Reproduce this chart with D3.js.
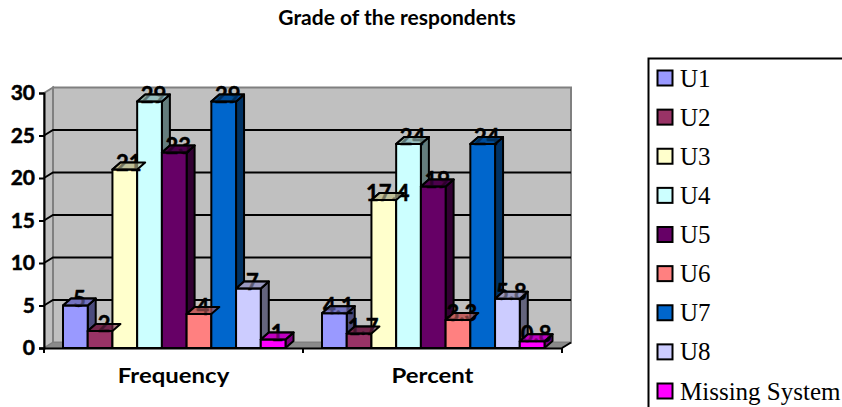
<!DOCTYPE html>
<html>
<head>
<meta charset="utf-8">
<style>
  html, body { margin: 0; padding: 0; background: #fff; }
  svg { display: block; }
  .bold { font-family: Lato, sans-serif; font-weight: 700; fill: #000; }
  .heavy { stroke: #000; stroke-width: 0.5; }
  .serif { font-family: "Liberation Serif", serif; fill: #000; }
</style>
</head>
<body>
<svg id="chart" width="842" height="407"></svg>
<script src="https://cdn.jsdelivr.net/npm/d3@7/dist/d3.min.js"></script>
<script>
const chartTitle = "Grade of the respondents";
const categories = ["Frequency", "Percent"];
const seriesNames = ["U1", "U2", "U3", "U4", "U5", "U6", "U7", "U8", "Missing System"];
const frequencyValues = [5, 2, 21, 29, 23, 4, 29, 7, 1];
const percentValues = [4.1, 1.7, 17.4, 24, 19, 3.3, 24, 5.8, 0.8];
const seriesColors = ["#9999ff", "#993366", "#ffffcc", "#ccffff", "#660066", "#ff8080", "#0066cc", "#ccccff", "#ff00ff"];
const yTicks = [0, 5, 10, 15, 20, 25, 30];

const svg = d3.select("#chart");

// Front plane of the 3D box and the offset of the back wall
const plot = { left: 44, right: 562, top: 93, bottom: 348 };
const wall = { dx: 9, dy: 5.5 };
const bar = { dx: 8, dy: 7 };

const y = d3.scaleLinear().domain([0, 30]).range([plot.bottom, plot.top]);
const x0 = d3.scaleBand().domain(categories).range([plot.left, plot.right]);
const x1 = d3.scaleBand().domain(seriesNames).range([19, x0.bandwidth() - 17.5]);
const rows = [frequencyValues, percentValues];

svg.append("text").attr("class", "bold")
  .attr("x", 397).attr("y", 25).attr("text-anchor", "middle")
  .attr("font-size", 21).text(chartTitle);

// Walls and floor
const poly = pts => pts.map(p => p.join(",")).join(" ");
svg.append("polygon").attr("fill", "#c0c0c0").attr("stroke", "#808080").attr("stroke-width", 2)
  .attr("points", poly([[plot.left + wall.dx, plot.top - wall.dy], [plot.right + wall.dx, plot.top - wall.dy],
    [plot.right + wall.dx, plot.bottom - wall.dy], [plot.left + wall.dx, plot.bottom - wall.dy]]));
svg.append("polygon").attr("fill", "#c0c0c0").attr("stroke", "#808080").attr("stroke-width", 2)
  .attr("points", poly([[plot.left, plot.top], [plot.left + wall.dx, plot.top - wall.dy],
    [plot.left + wall.dx, plot.bottom - wall.dy], [plot.left, plot.bottom]]));
svg.append("polygon").attr("fill", "#8a8a8a").attr("stroke", "#808080").attr("stroke-width", 1)
  .attr("points", poly([[plot.left, plot.bottom], [plot.left + wall.dx, plot.bottom - wall.dy],
    [plot.right + wall.dx, plot.bottom - wall.dy], [plot.right, plot.bottom]]));

// Gridlines on the back wall, with the diagonal run across the side wall
const grid = svg.append("g").attr("stroke", "#000").attr("stroke-width", 2).attr("fill", "none");
yTicks.filter(t => t > 0 && t < 30).forEach(t => {
  grid.append("polyline").attr("points", poly([[plot.left, y(t)], [plot.left + wall.dx, y(t) - wall.dy],
    [plot.right + wall.dx, y(t) - wall.dy]]));
});

// 3D bars, painted left to right so each front face covers its neighbour's side
const shade = (c, k) => d3.rgb(c).darker(k).formatHex();
const topFace = (l, r, t) => poly([[l, t], [l + bar.dx, t - bar.dy], [r + bar.dx, t - bar.dy], [r, t]]);
const groups = svg.selectAll("g.group").data(categories).join("g").attr("class", "group")
  .attr("transform", d => `translate(${x0(d)},0)`);
groups.each(function (cat, ci) {
  const g = d3.select(this);
  rows[ci].forEach((v, i) => {
    const name = seriesNames[i], c = seriesColors[i];
    const l = x1(name), r = l + x1.bandwidth(), t = y(v), b = y(0);
    const bars = g.append("g").attr("stroke", "#000").attr("stroke-width", 2).attr("stroke-linejoin", "round");
    bars.append("polygon").attr("fill", shade(c, 2))
      .attr("points", poly([[r, t], [r + bar.dx, t - bar.dy], [r + bar.dx, b - bar.dy], [r, b]]));
    bars.append("polygon").attr("fill", shade(c, 0.8)).attr("points", topFace(l, r, t));
    bars.append("rect").attr("fill", c)
      .attr("x", l).attr("y", t).attr("width", r - l).attr("height", b - t);
  });
});

// Axes
const yAxis = d3.axisLeft(y).tickValues(yTicks).tickSize(5).tickPadding(4);
const yG = svg.append("g").attr("transform", `translate(${plot.left},0)`).call(yAxis);
const xAxis = d3.axisBottom(x0).tickSize(0);
const xG = svg.append("g").attr("transform", `translate(0,${plot.bottom})`).call(xAxis);
[yG, xG].forEach(a => {
  a.selectAll("path, line").attr("stroke", "#000").attr("stroke-width", 2);
  a.attr("font-family", null).attr("font-size", null);
});
yG.selectAll("text").attr("class", "bold heavy").attr("font-size", 21);
xG.selectAll("text").attr("class", "bold").attr("font-size", 21).attr("y", 35).attr("dy", 0)
  .each(function () {
    // The category labels are set a little wider than the face's natural width
    d3.select(this).attr("lengthAdjust", "spacingAndGlyphs")
      .attr("textLength", this.getComputedTextLength() * 1.14);
  });
xG.select(".domain").attr("d", `M${plot.left - 5},0.5H${plot.right}`);
const boundaries = [plot.left, x0(categories[1]), plot.right];
svg.append("g").attr("stroke", "#000").attr("stroke-width", 2)
  .selectAll("line").data(boundaries).join("line")
  .attr("x1", d => d).attr("x2", d => d)
  .attr("y1", plot.bottom).attr("y2", plot.bottom + 5);
svg.append("line").attr("stroke", "#000").attr("stroke-width", 2)
  .attr("x1", plot.right).attr("y1", plot.bottom)
  .attr("x2", plot.right + wall.dx).attr("y2", plot.bottom - wall.dy);

// Value labels, with each bar's top face veiling the lower part of its own label
groups.each(function (cat, ci) {
  const g = d3.select(this);
  rows[ci].forEach((v, i) => {
    const name = seriesNames[i], l = x1(name), r = l + x1.bandwidth(), t = y(v);
    g.append("text").attr("class", "bold heavy").attr("font-size", 22)
      .attr("text-anchor", "middle")
      .attr("x", (l + r + bar.dx) / 2)
      .attr("y", t + 1)
      .text(v);
    g.append("polygon").attr("points", topFace(l, r, t))
      .attr("fill", shade(seriesColors[i], 0.8)).attr("fill-opacity", 0.6)
      .attr("stroke", "#000").attr("stroke-width", 2).attr("stroke-linejoin", "round");
  });
});

// Legend frame runs off the right and bottom of the page
svg.append("path").attr("fill", "none").attr("stroke", "#000").attr("stroke-width", 2)
  .attr("d", "M842,58.5H648.5V407");
const legendY = d3.scalePoint().domain(seriesNames).range([78, 391]);
const legend = svg.selectAll("g.legend").data(seriesNames).join("g").attr("class", "legend")
  .attr("transform", d => `translate(657,${legendY(d)})`);
legend.append("rect").attr("x", 0.5).attr("y", -7.5).attr("width", 15).attr("height", 15)
  .attr("fill", (d, i) => seriesColors[i]).attr("stroke", "#000").attr("stroke-width", 2);
legend.append("text").attr("class", "serif").attr("x", 23).attr("y", 8.5)
  .attr("font-size", 25).text(d => d);
</script>
</body>
</html>
